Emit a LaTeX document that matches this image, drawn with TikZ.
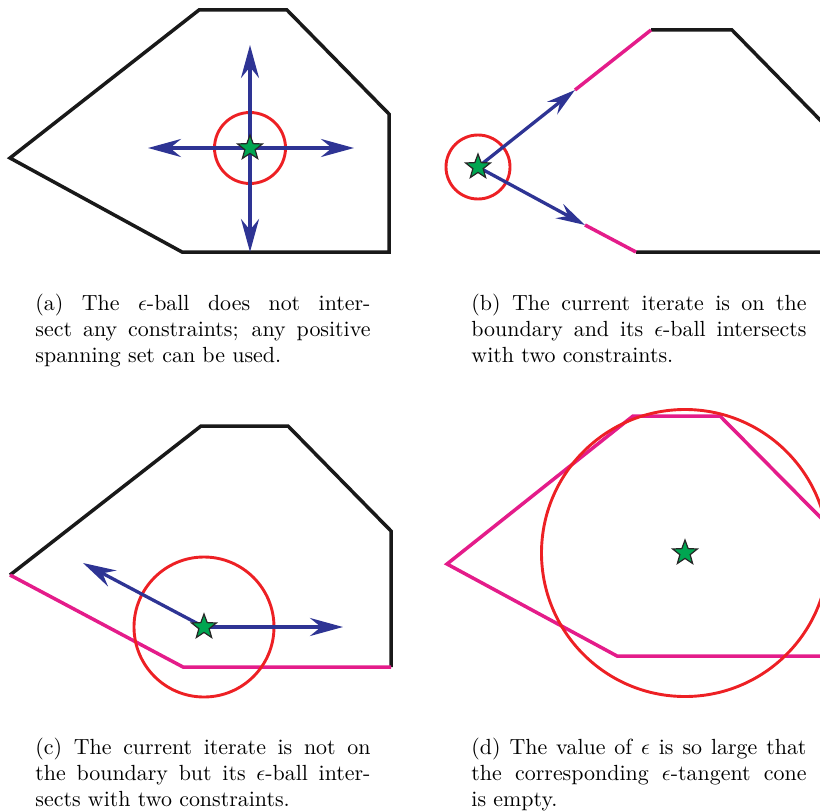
\documentclass[tikz,border=0pt]{standalone}
\usepackage{amsmath,amssymb}
\usepackage{xcolor}
\usetikzlibrary{arrows.meta,shapes.geometric}

\definecolor{iterblue}{RGB}{46,52,148}
\definecolor{ballred}{RGB}{237,32,36}
\definecolor{activemag}{RGB}{228,28,138}
\definecolor{stargreen}{RGB}{0,166,81}

\begin{document}
\begin{tikzpicture}[
  x=1bp, y=-1bp,
  edge/.style={line width=3.5bp, black!90},
  active/.style={line width=3.5bp, activemag},
  ball/.style={line width=2.9bp, ballred},
  dir/.style={line width=3.3bp, iterblue, -{Stealth[length=33bp, width=18bp, inset=11bp]}},
  dirsmall/.style={line width=3.3bp, iterblue, -{Stealth[length=29bp, width=16bp, inset=10bp]}},
  iterate/.style={star, star points=5, star point ratio=2.4, minimum size=26bp,
    inner sep=0pt, fill=stargreen, draw=black!85, line width=1.2bp},
  subcap/.style={scale=2.2, transform shape, anchor=base west, inner sep=0pt,
    text width=152.3bp, align=justify, font=\fontsize{10}{12}\selectfont}
]
\clip (0,0) rectangle (820,811);

%% ── (a) interior point, ball inside the region ───────────────────────
\coordinate (pa) at (250,148);
\draw[edge] (10,158) -- (199,10) -- (287,10) -- (389,114) -- (389,252)
    -- (182,252) -- cycle;
\draw[ball] (pa) circle[radius=35.5];
\coordinate (aN) at (250,45);
\coordinate (aS) at (250,252);
\coordinate (aW) at (148,148);
\coordinate (aE) at (354,148);
\foreach \t in {aN,aS,aW,aE}
  \draw[dir] (pa) -- (\t);
\node[iterate] (sa) at (pa) {};

%% ── (b) iterate on the boundary ──────────────────────────────────────
\coordinate (pb) at (478,167);
\coordinate (bU) at (575,90);
\coordinate (bL) at (585,225);
\draw[edge] (651,30) -- (732,30) -- (826,126) -- (826,252) -- (636,252);
\draw[active] (bU) -- (651,30);
\draw[active] (bL) -- (636,252);
\draw[ball] (pb) circle[radius=32];
\draw[dirsmall] (pb) -- (bU);
\draw[dirsmall] (pb) -- (bL);
\node[iterate] (sb) at (pb) {};

%% ── (c) interior iterate, ball hits two constraints ──────────────────
\coordinate (pc) at (204,627);
\draw[edge] (10,575) -- (201,426) -- (288,426) -- (391,531) -- (391,667);
\draw[active] (10,575) -- (183,667) -- (391,667);
\draw[ball] (pc) circle[radius=70];
\coordinate (cW) at (83,563);
\coordinate (cE) at (343,627);
\draw[dir] (pc) -- (cW);
\draw[dir] (pc) -- (cE);
\node[iterate] (sc) at (pc) {};

%% ── (d) large ball, every constraint active ──────────────────────────
\coordinate (pd) at (685,553);
\draw[active] (447,564) -- (633,416) -- (720,416) -- (823,520) -- (823,656)
    -- (617,656) -- cycle;
\draw[ball] (pd) circle[radius=143.5];
\node[iterate] (sd) at (pd) {};

%% ── Captions ─────────────────────────────────────────────────────────
\coordinate (qa) at (35,310);
\coordinate (qb) at (471,310);
\coordinate (qc) at (35,754);
\coordinate (qd) at (471,754);
\node[subcap] (capa) at (qa)
  {(a) The $\epsilon$-ball does not inter-\linebreak
   sect any constraints; any positive\linebreak
   spanning set can be used.};
\node[subcap] (capb) at (qb)
  {(b) The current iterate is on the\linebreak
   boundary and its $\epsilon$-ball intersects\linebreak
   with two constraints.};
\node[subcap] (capc) at (qc)
  {(c) The current iterate is not on\linebreak
   the boundary but its $\epsilon$-ball inter-\linebreak
   sects with two constraints.};
\node[subcap] (capd) at (qd)
  {(d) The value of $\epsilon$ is so large that\linebreak
   the corresponding $\epsilon$-tangent cone\linebreak
   is empty.};

\end{tikzpicture}
\end{document}
